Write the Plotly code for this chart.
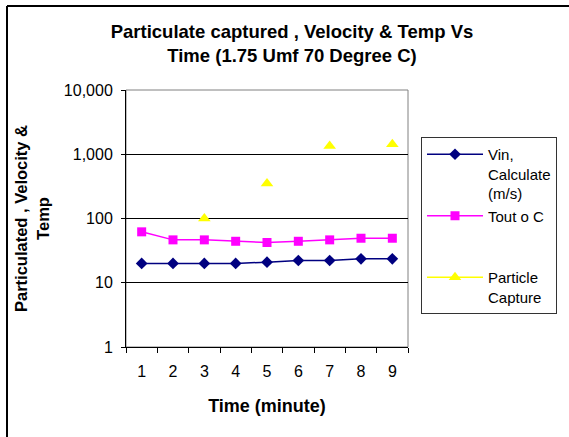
import plotly.graph_objects as go

time = ["1", "2", "3", "4", "5", "6", "7", "8", "9"]
vin = [20, 20, 20, 20, 20.9, 22.2, 22.2, 23.6, 23.6]
tout = [62, 46.5, 46.5, 44.2, 42.3, 44.2, 46.5, 49.3, 49.3]
particle = [None, None, 100, None, 350, None, 1346, None, 1430]

y_tickvals = [1, 10, 100, 1000, 10000]
y_ticktext = ["1", "10", "100", "1,000", "10,000"]

FONT = "Liberation Sans, Arial, sans-serif"

fig = go.Figure()
fig.add_trace(go.Scatter(
    x=time, y=vin, mode="lines+markers", name="Vin,<br>Calculate<br>(m/s)",
    line=dict(color="#000080", width=1.5),
    marker=dict(symbol="diamond", size=9, color="#000080"),
))
fig.add_trace(go.Scatter(
    x=time, y=tout, mode="lines+markers", name="Tout o C<br>&nbsp;<br>&nbsp;",
    line=dict(color="#FF00FF", width=1.5),
    marker=dict(symbol="square", size=9, color="#FF00FF"),
))
fig.add_trace(go.Scatter(
    x=time, y=particle, mode="lines+markers", name="Particle<br>Capture",
    line=dict(color="#FFFF00", width=1.5),
    marker=dict(symbol="triangle-up", size=11, color="#FFFF00"),
    connectgaps=False,
))

L, R, T, B = 126, 408, 90, 347
W, H = 569, 437

fig.update_layout(
    width=W, height=H,
    margin=dict(l=L, r=W - R, t=T, b=H - B, pad=0),
    paper_bgcolor="white", plot_bgcolor="white",
    font=dict(family=FONT, size=16, color="black"),
    title=dict(
        text="<b>Particulate captured , Velocity & Temp Vs<br>Time (1.75 Umf 70 Degree C)</b>",
        x=292 / W, xanchor="center", xref="container",
        y=1 - 38 / H, yanchor="middle", yref="container",
        font=dict(size=18.5, family=FONT),
    ),
    xaxis=dict(
        type="category", tickson="boundaries", ticks="outside", ticklen=5,
        tickcolor="black", showline=True, linecolor="black", linewidth=1,
        showgrid=False, tickfont=dict(size=16), ticklabelstandoff=10,
        title=dict(text="<b>Time (minute)</b>", font=dict(size=18), standoff=20),
        range=[-0.5, 8.5],
    ),
    yaxis=dict(
        type="log", range=[0, 4], tickvals=y_tickvals, ticktext=y_ticktext,
        ticks="outside", ticklen=4, tickcolor="black",
        showline=True, linecolor="black", linewidth=1,
        showgrid=True, gridcolor="black", gridwidth=1,
        tickfont=dict(size=16), ticklabelstandoff=5,
        title=dict(text="<b>Particulated , Velocity &<br>Temp</b>", font=dict(size=16.5), standoff=10),
    ),
    legend=dict(
        x=(421 - L) / (R - L), xanchor="left",
        y=(B - 137) / (B - T), yanchor="top",
        bordercolor="#333333", borderwidth=1,
        font=dict(size=15), valign="top", tracegroupgap=0,
        itemwidth=56, entrywidth=112, entrywidthmode="pixels",
    ),
    showlegend=True,
)

# plot area border (top/right gray)
fig.add_shape(type="rect", xref="paper", yref="paper", x0=0, x1=1, y0=0, y1=1,
              line=dict(color="#808080", width=1), layer="below")
# outer chart frame (left and top edges)
fx = (7 - L) / (R - L)
fy = (B - 6) / (B - T)
fig.add_shape(type="line", xref="paper", yref="paper",
              x0=fx, x1=fx, y0=fy, y1=(B - 440) / (B - T),
              line=dict(color="black", width=2))
fig.add_shape(type="line", xref="paper", yref="paper",
              x0=fx, x1=(572 - L) / (R - L), y0=fy, y1=fy,
              line=dict(color="black", width=2))

fig.write_html("out.html")
